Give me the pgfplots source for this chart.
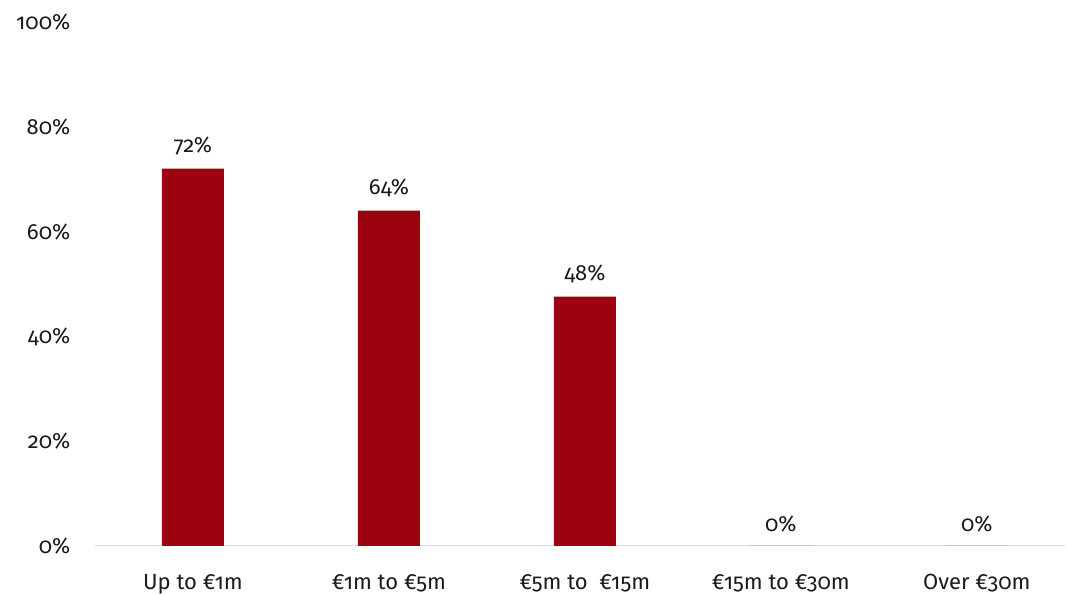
\documentclass[border=0pt]{standalone}
\usepackage{fontspec}
\setmainfont{Fira Sans}[Numbers=OldStyle]
\usepackage{pgfplots}
\pgfplotsset{compat=1.18}
\definecolor{barred}{HTML}{9B030E}
\definecolor{axisgray}{HTML}{D9D9D9}
\definecolor{txt}{HTML}{1A1A1A}

\begin{document}
\begin{tikzpicture}[x=0.75pt,y=0.75pt]
\useasboundingbox (-95,-49) rectangle (975,546);
\begin{axis}[
    at={(0,0)}, anchor=south west,
    scale only axis,
    width=727.5pt, height=393pt,
    ybar, bar width=46.5pt,
    xmin=-0.5, xmax=4.45,
    ymin=0, ymax=100,
    xtick={0,1,2,3,4},
    xticklabels={Up to €1m, €1m to €5m, €5m to\ \ €15m, €15m to €30m, Over €30m},
    ytick={0,20,40,60,80,100},
    yticklabels={0\%,20\%,40\%,60\%,80\%,100\%},
    major tick length=0pt,
    axis x line*=bottom,
    axis y line*=left,
    x axis line style={draw=axisgray, line width=0.75pt, -},
    y axis line style={draw=none, -},
    yticklabel style={font=\fontsize{16.5}{18}\selectfont, text=txt, anchor=east, xshift=-15pt},
    xticklabel style={font=\fontsize{16.5}{18}\selectfont, text=txt, anchor=base, yshift=-33pt},
    nodes near coords={\pgfmathprintnumber[fixed,precision=0]{\pgfplotspointmeta}\%},
    every node near coord/.append style={font=\fontsize{16.5}{18}\selectfont, text=txt, yshift=7pt},
    /pgf/number format/assume math mode=true,
    clip=false,
]
\addplot[fill=barred, draw=none] coordinates {
 (0,72) (1,64) (2,47.6) (3,0) (4,0)
};
\end{axis}
\end{tikzpicture}
\end{document}
